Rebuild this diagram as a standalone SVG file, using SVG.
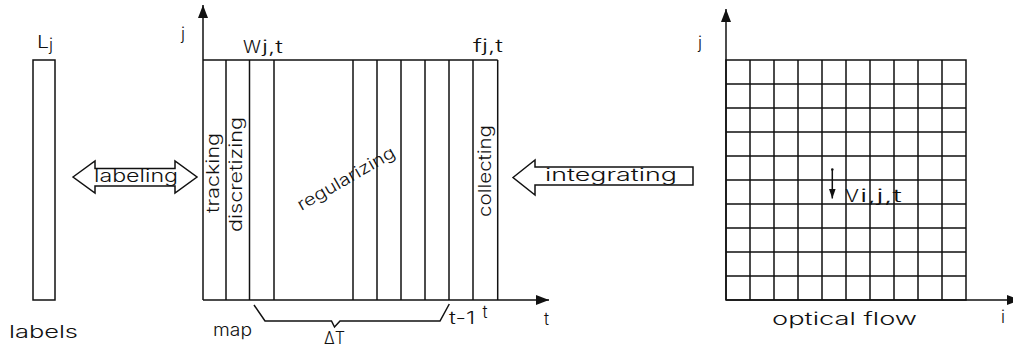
<svg xmlns="http://www.w3.org/2000/svg" width="1013" height="354" viewBox="0 0 1013 354">
<style>
  .ln{stroke:#111;stroke-width:1.5;fill:none}
  .bx{stroke:#111;stroke-width:1.5;fill:#fff}
  text{font-family:"Inter","Liberation Sans","DejaVu Sans",sans-serif;font-weight:300;fill:#111;font-size:17px}
</style>
<defs>
  <marker id="ah" viewBox="0 0 13 10" refX="13" refY="5" markerWidth="13" markerHeight="10" markerUnits="userSpaceOnUse" orient="auto">
    <path d="M0,0 L13,5 L0,10 Z" fill="#111"/>
  </marker>
  <marker id="sh" viewBox="0 0 10 7" refX="10" refY="3.5" markerWidth="10" markerHeight="7" markerUnits="userSpaceOnUse" orient="auto">
    <path d="M0,0 L10,3.5 L0,7 Z" fill="#111"/>
  </marker>
</defs>

<g id="labels-node">
  <rect class="bx" x="33" y="60" width="22" height="240"/>
  <text x="37" y="47.5" font-size="26" textLength="12" lengthAdjust="spacingAndGlyphs">L</text>
  <text x="49" y="51" font-size="15">j</text>
  <text x="9" y="338" font-size="17" textLength="69" lengthAdjust="spacingAndGlyphs">labels</text>
</g>

<g id="map-node">
  <g class="ln">
    <line x1="203" y1="60" x2="497.7" y2="60"/>
    <line x1="226" y1="60" x2="226" y2="300"/>
    <line x1="249.5" y1="60" x2="249.5" y2="300"/>
    <line x1="274" y1="60" x2="274" y2="300"/>
    <line x1="353" y1="60" x2="353" y2="300"/>
    <line x1="377" y1="60" x2="377" y2="300"/>
    <line x1="401" y1="60" x2="401" y2="300"/>
    <line x1="425" y1="60" x2="425" y2="300"/>
    <line x1="449" y1="60" x2="449" y2="300"/>
    <line x1="473" y1="60" x2="473" y2="300"/>
    <line x1="497.7" y1="60" x2="497.7" y2="300"/>
    <line x1="203" y1="300" x2="549" y2="300" marker-end="url(#ah)"/>
    <line x1="203" y1="300" x2="203" y2="5" marker-end="url(#ah)"/>
    <polyline points="254,305 265,321 331.5,321 334.5,327 340,321 440,321 449.3,304"/>
  </g>
  <text x="181" y="40" font-size="15">j</text>
  <text x="243" y="53" font-size="25" textLength="18" lengthAdjust="spacingAndGlyphs">W</text>
  <text x="262" y="53" font-size="17" textLength="21" lengthAdjust="spacingAndGlyphs">j,t</text>
  <text x="473" y="52" font-size="18" textLength="30" lengthAdjust="spacingAndGlyphs">fj,t</text>
  <text transform="translate(219,173) rotate(-90)" text-anchor="middle" textLength="80" lengthAdjust="spacingAndGlyphs">tracking</text>
  <text transform="translate(242,174.5) rotate(-90)" text-anchor="middle" textLength="115" lengthAdjust="spacingAndGlyphs">discretizing</text>
  <text transform="translate(349,183.5) rotate(-30)" text-anchor="middle" textLength="110" lengthAdjust="spacingAndGlyphs">regularizing</text>
  <text transform="translate(491,171) rotate(-90)" text-anchor="middle" textLength="92" lengthAdjust="spacingAndGlyphs">collecting</text>
  <text x="213" y="336" font-size="21" textLength="39" lengthAdjust="spacingAndGlyphs">map</text>
  <text x="324" y="344" font-size="16" textLength="21" lengthAdjust="spacingAndGlyphs">ΔT</text>
  <text x="449" y="324.3" font-size="17" textLength="26" lengthAdjust="spacingAndGlyphs">t-1</text>
  <text x="482.5" y="318.3" font-size="17">t</text>
  <text x="544" y="324.5" font-size="19">t</text>
</g>

<g id="flow-node">
  <g class="ln">
    <rect x="726" y="60" width="240" height="240"/>
    <path d="M750,60V300M774,60V300M798,60V300M822,60V300M846,60V300M870,60V300M894,60V300M918,60V300M942,60V300"/>
    <path d="M726,84H966M726,108H966M726,132H966M726,156H966M726,180H966M726,204H966M726,228H966M726,252H966M726,276H966"/>
    <line x1="726" y1="300" x2="1020" y2="300" marker-end="url(#ah)"/>
    <line x1="726" y1="300" x2="726" y2="9" marker-end="url(#ah)"/>
    <line x1="832.3" y1="170" x2="832.3" y2="198.5" marker-end="url(#sh)"/>
  </g>
  <circle cx="832.3" cy="169.5" r="1.3" fill="#111"/>
  <text x="698" y="49" font-size="18">j</text>
  <text x="845" y="201.7" font-size="23" textLength="14" lengthAdjust="spacingAndGlyphs">V</text>
  <text x="860" y="201.7" font-size="17" textLength="42" lengthAdjust="spacingAndGlyphs">i,j,t</text>
  <text x="772" y="325" font-size="21" textLength="145" lengthAdjust="spacingAndGlyphs">optical flow</text>
  <text x="1001" y="323.3" font-size="16">i</text>
</g>

<g id="connectors">
  <polygon class="bx" points="73,177 95,161 95,168.5 175,168.5 175,161 197,177 175,193 175,186 95,186 95,193"/>
  <text x="94" y="182" font-size="18" textLength="84" lengthAdjust="spacingAndGlyphs">labeling</text>
  <polygon class="bx" points="513,177.5 535,160 535,167 693,167 693,185 535,185 535,195"/>
  <text x="545" y="180.7" font-size="18" textLength="132" lengthAdjust="spacingAndGlyphs">integrating</text>
</g>
</svg>
